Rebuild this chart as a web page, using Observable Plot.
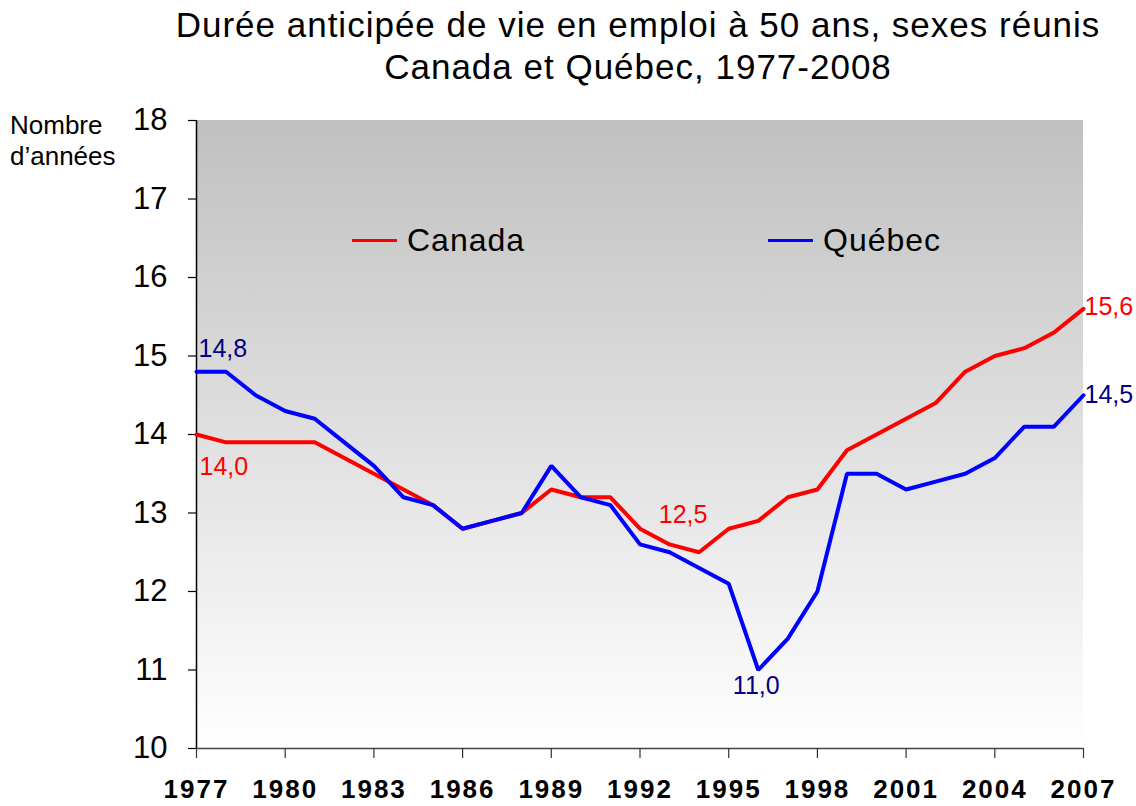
<!DOCTYPE html>
<html>
<head>
<meta charset="utf-8">
<script src="https://cdn.jsdelivr.net/npm/d3@7"></script>
<script src="https://cdn.jsdelivr.net/npm/@observablehq/plot@0.6"></script>
<style>
  html, body { margin: 0; padding: 0; background: #fff; }
  body { font-family: "Liberation Sans", Arial, sans-serif; }
  #wrap { position: relative; width: 1136px; height: 806px; overflow: hidden; }
  #title { position: absolute; left: 0; top: 4px; width: 1276px; text-align: center; font-size: 35px; letter-spacing: 1px; line-height: 42px; color: #000; z-index: 2; }
  #ylab { position: absolute; left: 10px; top: 110px; font-size: 26px; line-height: 31px; color: #000; z-index: 2; }
  .leg { position: absolute; top: 222px; font-size: 32px; letter-spacing: 1px; line-height: 36px; color: #000; z-index: 2; display: flex; align-items: center; }
  .sw { display: inline-block; width: 45px; height: 3px; margin-right: 10px; }
  #chart { position: absolute; left: 0; top: 0; }
  #chart g[aria-label="x-axis tick label"] text { letter-spacing: 2px; }
</style>
</head>
<body>
<div id="wrap">
  <div id="title">Durée anticipée de vie en emploi à 50 ans, sexes réunis<br>Canada et Québec, 1977-2008</div>
  <div id="ylab">Nombre<br>d’années</div>
  <div class="leg" style="left:352px"><span class="sw" style="background:#ff0000"></span>Canada</div>
  <div class="leg" style="left:768px"><span class="sw" style="background:#0000ff"></span>Québec</div>
  <div id="chart"></div>
</div>
<script>
const years = d3.range(1977, 2008);
const canada = [14.0, 13.9, 13.9, 13.9, 13.9, 13.7, 13.5, 13.3, 13.1, 12.8, 12.9, 13.0, 13.3, 13.2, 13.2, 12.8, 12.6, 12.5, 12.8, 12.9, 13.2, 13.3, 13.8, 14.0, 14.2, 14.4, 14.8, 15.0, 15.1, 15.3, 15.6];
const quebec = [14.8, 14.8, 14.5, 14.3, 14.2, 13.9, 13.6, 13.2, 13.1, 12.8, 12.9, 13.0, 13.6, 13.2, 13.1, 12.6, 12.5, 12.3, 12.1, 11.0, 11.4, 12.0, 13.5, 13.5, 13.3, 13.4, 13.5, 13.7, 14.1, 14.1, 14.5];
const xTicks = [1977, 1980, 1983, 1986, 1989, 1992, 1995, 1998, 2001, 2004, 2007];
const yTicks = [10, 11, 12, 13, 14, 15, 16, 17, 18];

const rows = [];
years.forEach((yr, i) => {
  rows.push({series: "Canada", year: yr, value: canada[i]});
  rows.push({series: "Québec", year: yr, value: quebec[i]});
});
const fmt = v => v.toFixed(1).replace(".", ",");
const ca = rows.filter(d => d.series === "Canada");
const qc = rows.filter(d => d.series === "Québec");
const caMin = ca.reduce((a, b) => (b.value < a.value ? b : a));
const qcMin = qc.reduce((a, b) => (b.value < a.value ? b : a));

function background(index, scales, values, dims) {
  const g = d3.create("svg:g");
  const grad = g.append("defs").append("linearGradient")
    .attr("id", "bggrad").attr("x1", 0).attr("y1", 0).attr("x2", 0).attr("y2", 1);
  grad.append("stop").attr("offset", "0%").attr("stop-color", "#c0c0c0");
  grad.append("stop").attr("offset", "100%").attr("stop-color", "#ffffff");
  g.append("rect")
    .attr("x", dims.marginLeft).attr("y", dims.marginTop)
    .attr("width", dims.width - dims.marginLeft - dims.marginRight)
    .attr("height", dims.height - dims.marginTop - dims.marginBottom)
    .attr("fill", "url(#bggrad)");
  return g.node();
}

const lab = {fontSize: 25, fontFamily: "Liberation Sans, Arial, sans-serif", text: d => fmt(d.value)};

const chart = Plot.plot({
  width: 1136,
  height: 806,
  marginTop: 120,
  marginBottom: 58,
  marginLeft: 196,
  marginRight: 53,
  style: {fontFamily: "Liberation Sans, Arial, sans-serif", background: "transparent", overflow: "visible"},
  x: {domain: [1977, 2007]},
  y: {domain: [10, 18]},
  marks: [
    background,
    Plot.ruleX([1977], {stroke: "#000", strokeWidth: 1.5}),
    Plot.ruleY([10], {stroke: "#444", strokeWidth: 1.5}),
    Plot.axisY({ticks: yTicks, tickSize: 8, tickPadding: 21, fontSize: 31, tickFormat: d => String(d), stroke: "#000", strokeWidth: 1.2, color: "#000", label: null}),
    Plot.axisX({ticks: xTicks, tickSize: 10, tickPadding: 21, fontSize: 26, fontWeight: "bold", tickFormat: d => String(d), stroke: "#333", strokeWidth: 1.2, color: "#000", label: null}),
    Plot.line(ca, {x: "year", y: "value", stroke: "#ff0000", strokeWidth: 4, strokeLinejoin: "miter"}),
    Plot.line(qc, {x: "year", y: "value", stroke: "#0000ff", strokeWidth: 4, strokeLinejoin: "miter"}),
    Plot.text([qc[0]], {...lab, x: "year", y: "value", fill: "#000080", textAnchor: "start", dx: 2, dy: -23}),
    Plot.text([ca[0]], {...lab, x: "year", y: "value", fill: "#ff0000", textAnchor: "start", dx: 3, dy: 32}),
    Plot.text([caMin], {...lab, x: "year", y: "value", fill: "#ff0000", textAnchor: "middle", dx: -16, dy: -37}),
    Plot.text([qcMin], {...lab, x: "year", y: "value", fill: "#000080", textAnchor: "middle", dx: -2, dy: 16}),
    Plot.text([ca[ca.length - 1]], {...lab, x: "year", y: "value", fill: "#ff0000", textAnchor: "start", dx: 1, dy: -2}),
    Plot.text([qc[qc.length - 1]], {...lab, x: "year", y: "value", fill: "#000080", textAnchor: "start", dx: 1, dy: 0})
  ]
});
document.getElementById("chart").appendChild(chart);
</script>
</body>
</html>
